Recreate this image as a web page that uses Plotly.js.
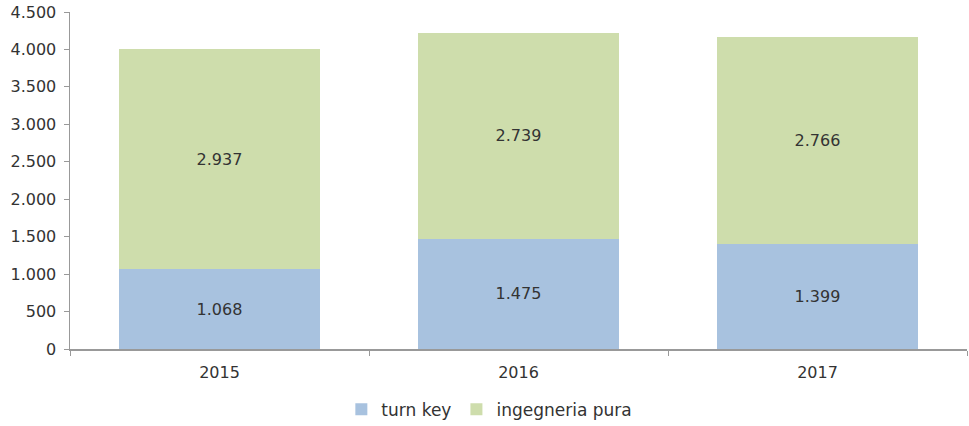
<!DOCTYPE html>
<html><head><meta charset="utf-8">
<script src="https://cdn.plot.ly/plotly-3.0.1.min.js"></script>
<style>body{margin:0;background:#fff}#c{width:969px;height:426px}</style>
</head><body><div id="c"></div>
<script>
const years = ['2015', '2016', '2017'];
const turnKey = [1068, 1475, 1399];
const ingegneriaPura = [2937, 2739, 2766];
const seriesNames = ['turn key', 'ingegneria pura'];
const yTicks = [0, 500, 1000, 1500, 2000, 2500, 3000, 3500, 4000, 4500];

const fam = 'DejaVu Sans, Verdana, sans-serif';
const font = {family: fam, size: 16, color: '#333'};
const traces = [
  {x: years, y: turnKey, name: seriesNames[0], type: 'bar', marker: {color: '#A8C2DF'},
   texttemplate: '%{y:,d}', textposition: 'inside', insidetextanchor: 'middle',
   textfont: {family: fam, size: 16, color: '#333'}, hoverinfo: 'skip'},
  {x: years, y: ingegneriaPura, name: seriesNames[1], type: 'bar', marker: {color: '#CEDDAC'},
   texttemplate: '%{y:,d}', textposition: 'inside', insidetextanchor: 'middle',
   textfont: {family: fam, size: 16, color: '#333'}, hoverinfo: 'skip'}
];
const layout = {
  width: 969, height: 426, barmode: 'stack', bargap: 0.33,
  separators: ',.',
  font: font,
  paper_bgcolor: '#fff', plot_bgcolor: '#fff',
  margin: {l: 70, r: 2, t: 12, b: 77},
  xaxis: {type: 'category', showline: true, linecolor: '#999', linewidth: 1.5,
          ticks: 'outside', tickson: 'boundaries', ticklen: 5, tickcolor: '#999',
          showgrid: false, tickfont: font, ticklabelstandoff: 8, automargin: false},
  yaxis: {range: [0, 4500], tickvals: yTicks, tickformat: ',d', showline: true,
          linecolor: '#999', linewidth: 1.5, ticks: 'outside', ticklen: 5, tickcolor: '#999',
          showgrid: false, zeroline: false, tickfont: font, ticklabelstandoff: 4, automargin: false},
  legend: {orientation: 'h', traceorder: 'normal', x: 0.505, xanchor: 'center', xref: 'container',
           y: 0.038, yanchor: 'middle', yref: 'container',
           font: {family: fam, size: 17, color: '#333'}, itemwidth: 30},
  showlegend: true
};
Plotly.newPlot('c', traces, layout, {displayModeBar: false, staticPlot: true});
</script></body></html>
